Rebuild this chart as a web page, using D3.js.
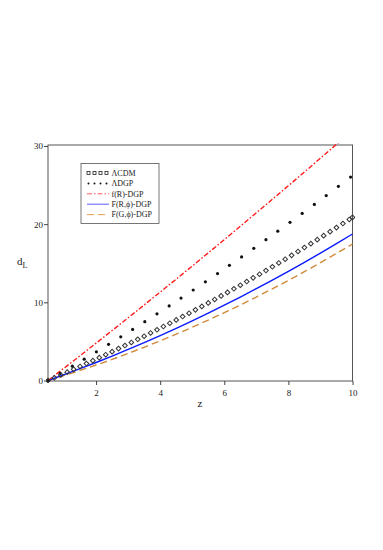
<!DOCTYPE html>
<html>
<head>
<meta charset="utf-8">
<script src="https://cdn.jsdelivr.net/npm/d3@7"></script>
<style>
  body { margin: 0; background: #fff; }
  svg text { font-family: "Liberation Serif", "DejaVu Serif", serif; fill: #222; }
  .axis path, .axis line { stroke: #444; }
</style>
</head>
<body>
<div id="chart"></div>
<script>
// luminosity distance d_L against redshift z
var lcdmZ = [0.5,0.7,0.9,1.1,1.3,1.5,1.7,1.9,2.1,2.3,2.5,2.7,2.9,3.1,3.3,3.5,3.7,3.9,4.1,4.3,
  4.5,4.7,4.9,5.1,5.3,5.5,5.7,5.9,6.1,6.3,6.5,6.7,6.9,7.1,7.3,7.5,7.7,7.9,8.1,8.3,
  8.5,8.7,8.9,9.1,9.3,9.5,9.7,9.9,10.0];
var lcdmD = [0,0.35,0.71,1.07,1.43,1.80,2.17,2.54,2.92,3.30,3.69,4.08,4.47,4.87,5.27,5.67,6.08,6.49,6.91,7.33,
  7.75,8.18,8.61,9.04,9.48,9.93,10.37,10.82,11.27,11.73,12.19,12.66,13.13,13.60,14.07,14.55,15.04,15.52,16.01,16.51,
  17.01,17.51,18.02,18.53,19.04,19.56,20.08,20.60,20.87];

var dgpZ = [0.5,0.88,1.26,1.63,2.01,2.39,2.77,3.14,3.52,3.90,4.28,4.65,5.03,5.41,5.79,6.16,
  6.54,6.92,7.30,7.67,8.05,8.43,8.81,9.18,9.56,9.94];
var dgpD = [0,0.91,1.83,2.73,3.67,4.63,5.59,6.54,7.53,8.53,9.54,10.54,11.58,12.63,13.68,14.73,
  15.81,16.91,18.01,19.10,20.23,21.37,22.53,23.66,24.84,26.03];

var lineZ = [0.5,1,1.5,2,2.5,3,3.5,4,4.5,5,5.5,6,6.5,7,7.5,8,8.5,9,9.5,10];
var fRD = [0,1.58,3.17,4.78,6.39,8.02,9.66,11.31,12.97,14.64,16.33,18.02,19.73,21.45,23.18,24.92,26.67,28.44,30.21,32.0];
var fRphiD = [0,0.74,1.51,2.30,3.12,3.97,4.85,5.75,6.68,7.64,8.63,9.64,10.68,11.75,12.85,13.97,15.12,16.30,17.51,18.74];
var fGphiD = [0,0.63,1.29,1.98,2.70,3.46,4.25,5.07,5.92,6.81,7.73,8.68,9.66,10.68,11.73,12.81,13.92,15.07,16.25,17.46];

var xTicks = [2,4,6,8,10];
var yTicks = [0,10,20,30];
var legendLabels = ["\u039bCDM", "\u039bDGP", "f(R)-DGP", "F(R,\u03d5)-DGP", "F(G,\u03d5)-DGP"];

var width = 383, height = 550;
var svg = d3.select("#chart").append("svg")
    .attr("width", width)
    .attr("height", height);

var x = d3.scaleLinear().domain([0.5, 10]).range([48, 352.5]);
var y = d3.scaleLinear().domain([0, 30]).range([380.5, 146]);

// frame
svg.append("rect")
  .attr("x", 48).attr("y", 145)
  .attr("width", 304.5).attr("height", 236)
  .attr("fill", "none").attr("stroke", "#555").attr("stroke-width", 1);

svg.append("clipPath").attr("id", "plot")
  .append("rect").attr("x", 46).attr("y", 143).attr("width", 309).attr("height", 240);

var xAxis = svg.append("g")
  .attr("class", "axis")
  .attr("transform", "translate(0,381)")
  .call(d3.axisBottom(x).tickValues(xTicks).tickSize(4).tickFormat(d3.format("d")));
xAxis.select(".domain").remove();
xAxis.selectAll("text").attr("font-size", 9).attr("dy", "0.9em");

var yAxis = svg.append("g")
  .attr("class", "axis")
  .attr("transform", "translate(48,0)")
  .call(d3.axisLeft(y).tickValues(yTicks).tickSize(4).tickFormat(d3.format("d")));
yAxis.select(".domain").remove();
yAxis.selectAll("text").attr("font-size", 9).attr("x", -5);
svg.selectAll(".axis").attr("font-family", "'Liberation Serif', serif");
svg.selectAll(".axis text").attr("fill", "#222");

// axis titles
svg.append("text").attr("x", 200).attr("y", 407)
  .attr("text-anchor", "middle").attr("font-size", 11).text("z");
var yl = svg.append("text").attr("x", 17).attr("y", 265).attr("font-size", 11);
yl.append("tspan").text("d");
yl.append("tspan").attr("font-size", 8).attr("dy", 3).text("L");

var plot = svg.append("g").attr("clip-path", "url(#plot)");
var line = d3.line().x(d => x(d[0])).y(d => y(d[1]));

plot.append("path")
  .datum(d3.zip(lineZ, fGphiD))
  .attr("d", line).attr("fill", "none")
  .attr("stroke", "#d08a3c").attr("stroke-width", 1.4)
  .attr("stroke-dasharray", "7,4");

plot.append("path")
  .datum(d3.zip(lineZ, fRphiD))
  .attr("d", line).attr("fill", "none")
  .attr("stroke", "#0a1aff").attr("stroke-width", 1.4);

plot.append("path")
  .datum(d3.zip(lineZ, fRD))
  .attr("d", line).attr("fill", "none")
  .attr("stroke", "#ff1a1a").attr("stroke-width", 1.4)
  .attr("stroke-dasharray", "5,2,1.5,2");

plot.selectAll("circle.dgp")
  .data(d3.zip(dgpZ, dgpD))
  .enter().append("circle")
  .attr("class", "dgp")
  .attr("cx", d => x(d[0])).attr("cy", d => y(d[1]))
  .attr("r", 1.6).attr("fill", "#111");

plot.selectAll("path.lcdm")
  .data(d3.zip(lcdmZ, lcdmD))
  .enter().append("path")
  .attr("class", "lcdm")
  .attr("d", d3.symbol().type(d3.symbolSquare).size(11))
  .attr("transform", d => `translate(${x(d[0])},${y(d[1])}) rotate(45)`)
  .attr("fill", "none").attr("stroke", "#333").attr("stroke-width", 1);

// legend
var lg = svg.append("g");
lg.append("rect").attr("x", 81).attr("y", 163.5).attr("width", 78).attr("height", 60)
  .attr("fill", "#fff").attr("stroke", "#555").attr("stroke-width", 0.8);

var rowY = d => 173 + d * 10.4;
legendLabels.forEach(function(lab, i) {
  var yy = rowY(i);
  if (i == 0) {
    d3.range(4).forEach(k => lg.append("rect")
      .attr("x", 87 + k * 6).attr("y", yy - 1.5).attr("width", 3).attr("height", 3)
      .attr("fill", "none").attr("stroke", "#222").attr("stroke-width", 0.8));
  } else if (i == 1) {
    d3.range(4).forEach(k => lg.append("circle")
      .attr("cx", 88.5 + k * 6).attr("cy", yy).attr("r", 1)
      .attr("fill", "#111"));
  } else {
    var st = [null, null,
      {c: "#ff5a5a", dash: "5,2,1.5,2"},
      {c: "#5a5aff", dash: null},
      {c: "#e0a050", dash: "7,4"}][i];
    lg.append("line").attr("x1", 87).attr("x2", 109).attr("y1", yy).attr("y2", yy)
      .attr("stroke", st.c).attr("stroke-width", 1)
      .attr("stroke-dasharray", st.dash);
  }
  lg.append("text").attr("x", 111.5).attr("y", yy + 2.8)
    .attr("font-size", 8).text(lab);
});
</script>
</body>
</html>
